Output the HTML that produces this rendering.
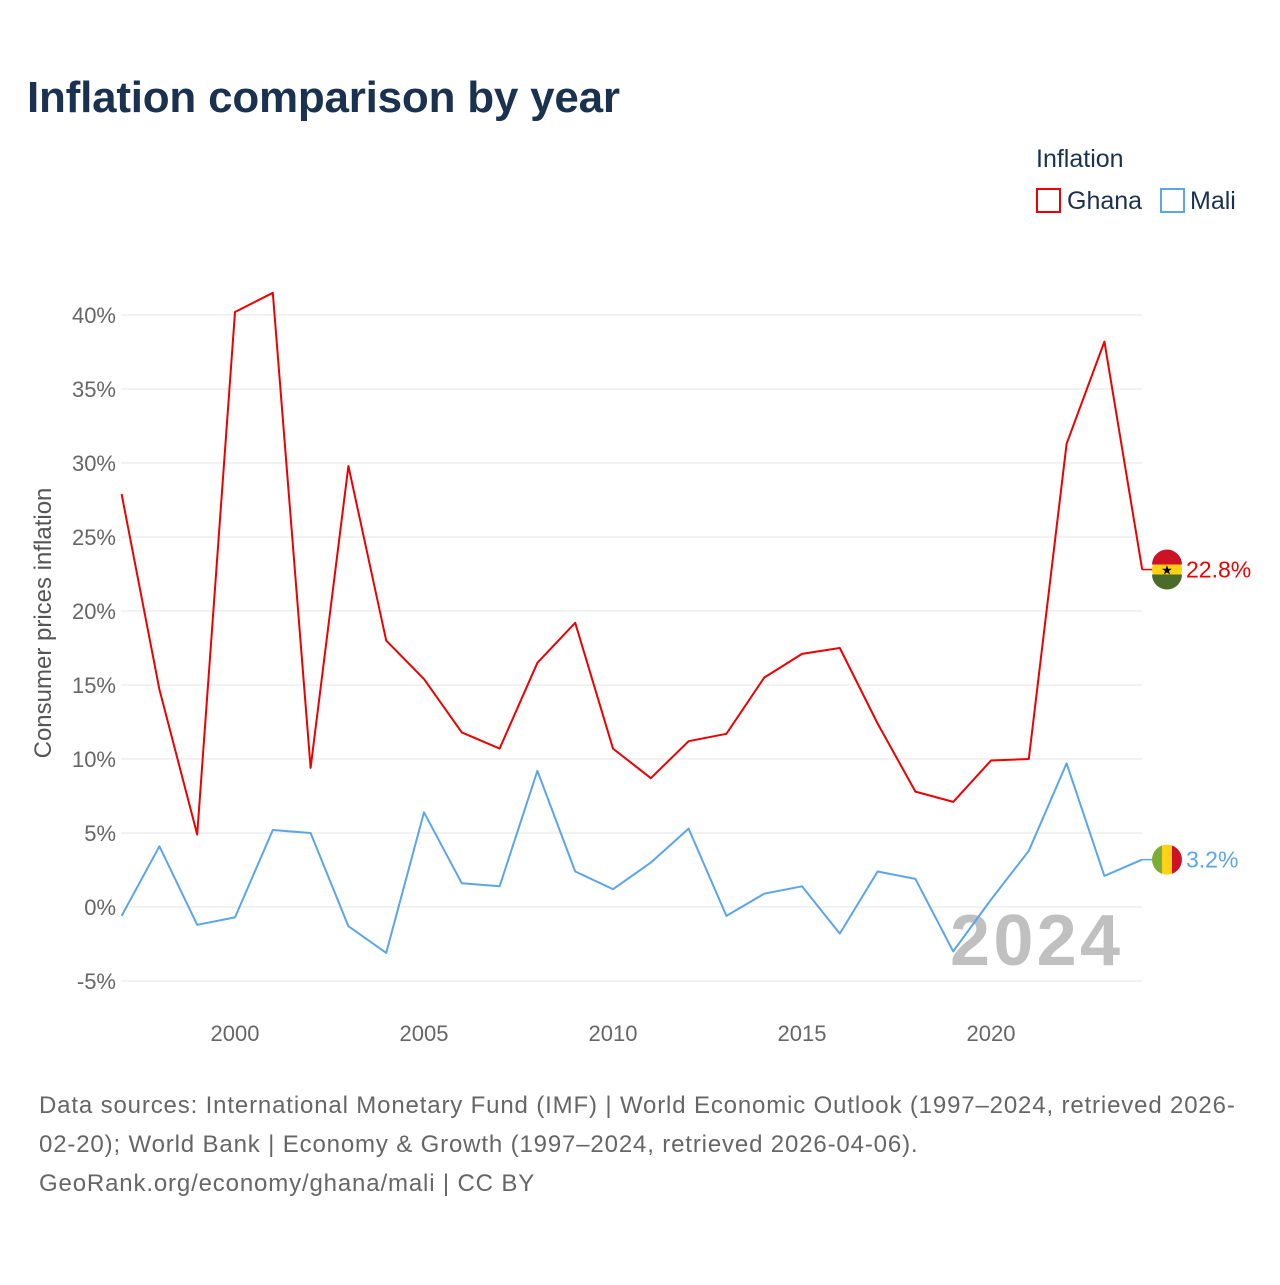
<!DOCTYPE html>
<html><head><meta charset="utf-8"><style>
body{margin:0;background:#fff;font-family:"Liberation Sans",sans-serif}
svg text{font-family:"Liberation Sans",sans-serif}
</style></head><body>
<svg id="chart" width="1280" height="1280" viewBox="0 0 1280 1280">
<rect width="1280" height="1280" fill="#fff"/>
<text x="27" y="112" font-size="44" font-weight="bold" fill="#1a3150" textLength="593">Inflation comparison by year</text>
<g>
<text x="1036" y="167" font-size="25" fill="#1a3150">Inflation</text>
<g><rect x="1037" y="189" width="23" height="23" fill="none" stroke="#ee0000" stroke-width="2"/><text x="1067" y="209" font-size="25" fill="#1a3150">Ghana</text></g>
<g><rect x="1161" y="189" width="23" height="23" fill="none" stroke="#5ba5ea" stroke-width="2"/><text x="1190" y="209" font-size="25" fill="#1a3150">Mali</text></g>
</g>
<g id="grid"></g>
<g id="yticks"></g>
<g id="xticks"></g>
<text transform="translate(51,623) rotate(-90)" text-anchor="middle" font-size="24" fill="#555">Consumer prices inflation</text>
<text x="1120" y="965" text-anchor="end" font-size="72" font-weight="bold" fill="#c0c0c0" textLength="170">2024</text>
<g id="series"></g>
<g font-size="24" fill="#666" letter-spacing="0.85">
<text x="39" y="1113">Data sources: International Monetary Fund (IMF) | World Economic Outlook (1997–2024, retrieved 2026-</text>
<text x="39" y="1152">02-20); World Bank | Economy &amp; Growth (1997–2024, retrieved 2026-04-06).</text>
<text x="39" y="1191">GeoRank.org/economy/ghana/mali | CC BY</text>
</g>
</svg>
<script>
const years=[1997,1998,1999,2000,2001,2002,2003,2004,2005,2006,2007,2008,2009,2010,2011,2012,2013,2014,2015,2016,2017,2018,2019,2020,2021,2022,2023,2024];
const ghana=[27.9,14.7,4.9,40.2,41.5,9.4,29.8,18.0,15.4,11.8,10.7,16.5,19.2,10.7,8.7,11.2,11.7,15.5,17.1,17.5,12.4,7.8,7.1,9.9,10.0,31.3,38.2,22.8];
const mali=[-0.6,4.1,-1.2,-0.7,5.2,5.0,-1.3,-3.1,6.4,1.6,1.4,9.2,2.4,1.2,3.0,5.3,-0.6,0.9,1.4,-1.8,2.4,1.9,-3.0,0.5,3.8,9.7,2.1,3.2];
const yTicks=[-5,0,5,10,15,20,25,30,35,40];
const xTicks=[2000,2005,2010,2015,2020];
const NS="http://www.w3.org/2000/svg";
const X=v=>121.6+(v-1997)*37.8;
const Y=v=>907-v*14.8;
function el(t,a,p){const e=document.createElementNS(NS,t);for(const k in a)e.setAttribute(k,a[k]);p.appendChild(e);return e;}
const grid=document.getElementById('grid'),yt=document.getElementById('yticks'),xt=document.getElementById('xticks'),ser=document.getElementById('series');
yTicks.forEach(v=>{
const l=el('line',{x1:121,x2:1142,y1:Y(v),y2:Y(v),stroke:'#e6e6e6','stroke-width':1},grid);


const t=el('text',{x:116,y:Y(v)+8,'text-anchor':'end','font-size':22,fill:'#666'},yt);
t.textContent=v+'%';


});
xTicks.forEach(v=>{
const t=el('text',{x:X(v),y:1041,'text-anchor':'middle','font-size':22,fill:'#666'},xt);
t.textContent=v;


});
function line(data,color,name){
const pts=data.map((v,i)=>X(years[i]).toFixed(1)+','+Y(v).toFixed(1)).join(' ');
const p=el('polyline',{points:pts,fill:'none',stroke:color,'stroke-width':2,'stroke-linejoin':'round'},ser);


const last=data[data.length-1],ly=Y(last),lx=X(years[years.length-1]);
el('line',{x1:lx,x2:lx+12,y1:ly,y2:ly,stroke:color,'stroke-width':1.5},ser);
const lab=el('text',{x:1186,y:ly+8,'font-size':23,fill:color},ser);
lab.textContent=last.toFixed(1)+'%';


return ly;
}
const gy=line(ghana,'#ee0000','ghana');
const my=line(mali,'#5ba5ea','mali');
const cx=1167;
const g=el('g',{},ser);


el('circle',{cx:cx,cy:gy,r:15,fill:'#fcd116'},g);
el('path',{d:`M${cx-15},${gy-5} A15,15 0 0 1 ${cx+15},${gy-5} Z`,fill:'#ce1126'},g);
el('path',{d:`M${cx-15},${gy+5} A15,15 0 0 0 ${cx+15},${gy+5} Z`,fill:'#4a6b2a'},g);
const st=el('text',{x:cx,y:gy+5,'text-anchor':'middle','font-size':13,fill:'#000'},g);st.textContent='★';
const m=el('g',{},ser);


el('circle',{cx:cx,cy:my,r:15,fill:'#fcd116'},m);
el('path',{d:`M${cx-5},${my-14.1} A15,15 0 0 0 ${cx-5},${my+14.1} Z`,fill:'#7cad3a'},m);
el('path',{d:`M${cx+5},${my-14.1} A15,15 0 0 1 ${cx+5},${my+14.1} Z`,fill:'#ce1126'},m);
</script>
</body></html>
